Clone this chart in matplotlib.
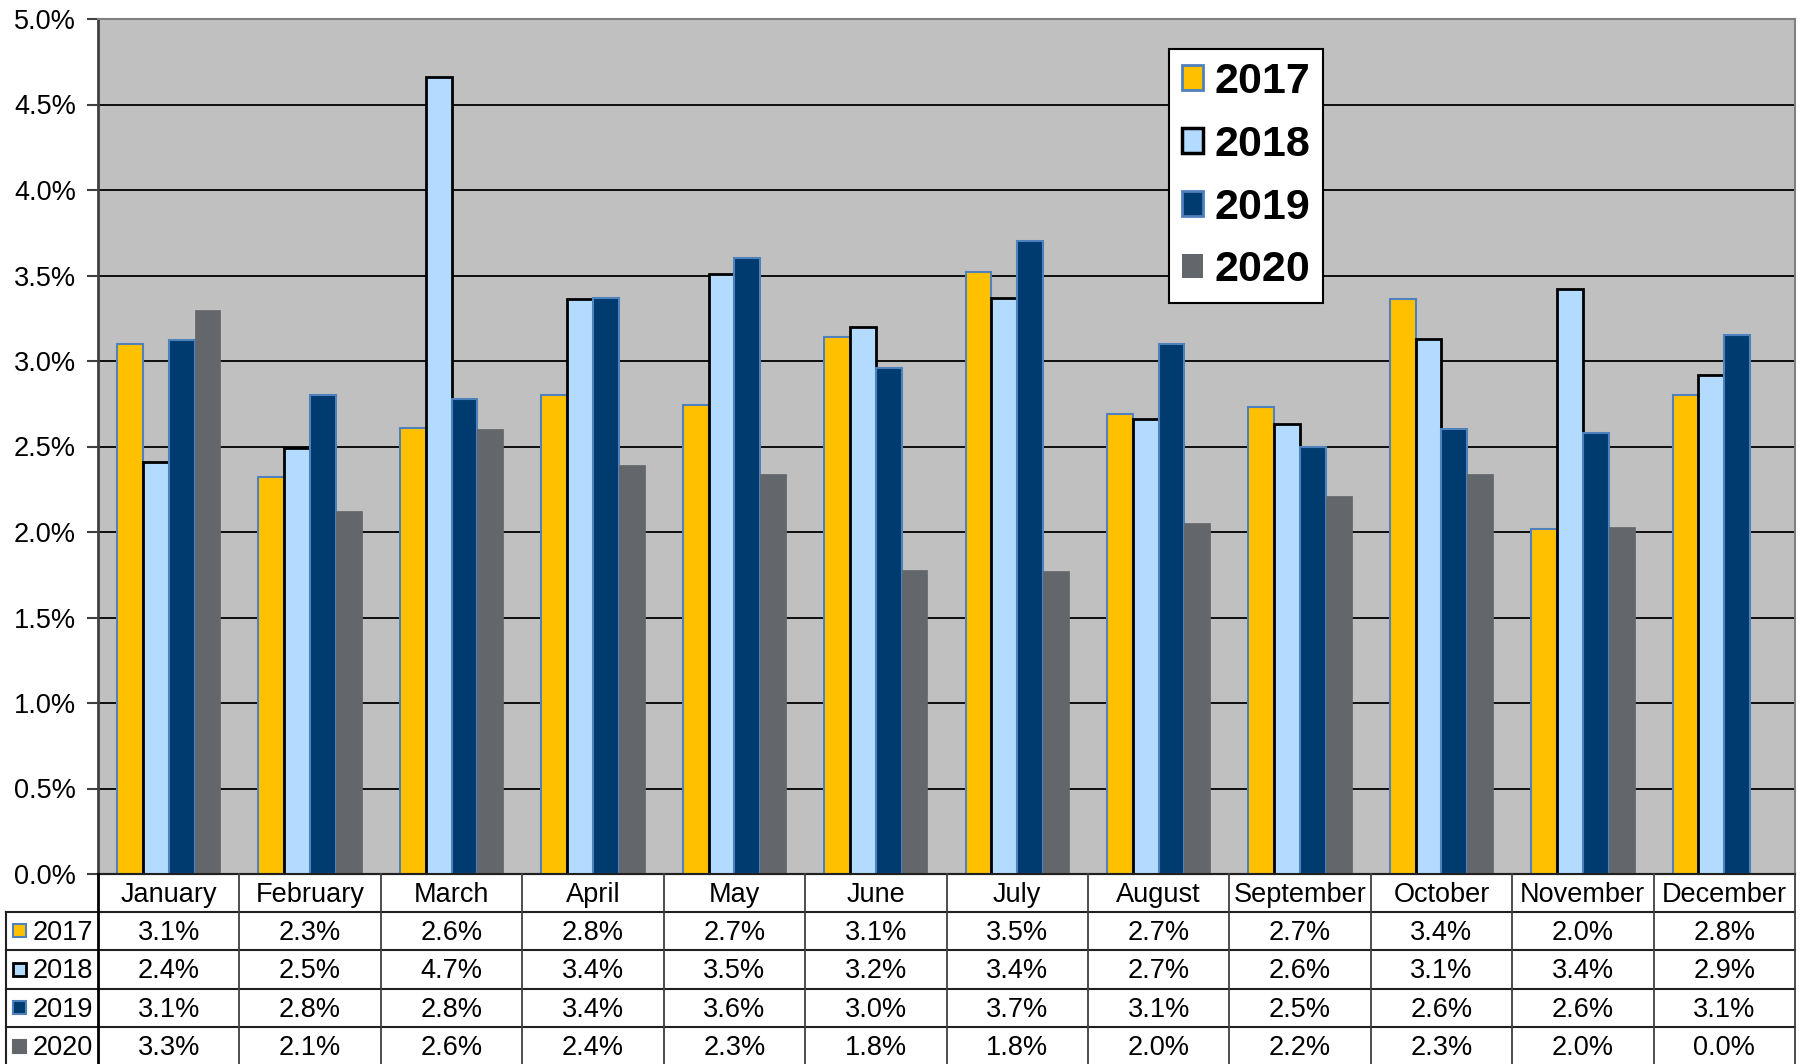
import matplotlib
matplotlib.use("Agg")
import matplotlib.pyplot as plt
from matplotlib.patches import Rectangle, Patch

plt.rcParams['font.family'] = ['Liberation Sans', 'DejaVu Sans']

months = ["January", "February", "March", "April", "May", "June", "July",
          "August", "September", "October", "November", "December"]
years = ["2017", "2018", "2019", "2020"]
v2017 = [3.10, 2.32, 2.61, 2.80, 2.74, 3.14, 3.52, 2.69, 2.73, 3.36, 2.02, 2.80]
v2018 = [2.41, 2.49, 4.66, 3.36, 3.51, 3.20, 3.37, 2.66, 2.63, 3.13, 3.42, 2.92]
v2019 = [3.12, 2.80, 2.78, 3.37, 3.60, 2.96, 3.70, 3.10, 2.50, 2.60, 2.58, 3.15]
v2020 = [3.30, 2.12, 2.60, 2.39, 2.34, 1.78, 1.77, 2.05, 2.21, 2.34, 2.03, 0.00]
yticks = [0.0, 0.5, 1.0, 1.5, 2.0, 2.5, 3.0, 3.5, 4.0, 4.5, 5.0]

series = [v2017, v2018, v2019, v2020]
faces = ["#FFC000", "#B3DBFF", "#003B70", "#63666A"]
edges = ["#4F81BD", "#000000", "#4F81BD", "#63666A"]
ewidths = [1.5, 2.0, 1.5, 0.5]

W, H = 1802, 1064
fig = plt.figure(figsize=(W / 100, H / 100), dpi=100)
FS = 19.5

# main plot area
pl, pr, pt, pb = 98, 1795, 19, 874
ax = fig.add_axes([pl / W, 1 - pb / H, (pr - pl) / W, (pb - pt) / H])
ax.set_facecolor("#C0C0C0")
ax.set_xlim(-0.5, 11.5)
ax.set_ylim(0, 5)
ax.set_yticks(yticks)
ax.set_yticklabels([f"{t:.1f}%" for t in yticks], fontsize=FS)
ax.tick_params(axis='y', length=8, width=1.5, color="#404040", pad=8)
ax.set_xticks([])
for y in yticks[1:-1]:
    ax.axhline(y, color="#000000", lw=1.3, zorder=1)
ax.spines['left'].set_color("#404040")
ax.spines['left'].set_linewidth(2)
for s in ['top', 'right']:
    ax.spines[s].set_color("#808080")
    ax.spines[s].set_linewidth(1.5)
ax.spines['bottom'].set_color("#404040")
ax.spines['bottom'].set_linewidth(1.5)

bw = 0.1826
x = list(range(len(months)))
handles = []
for k, vals in enumerate(series):
    xs = [i + (k - 1.5) * bw for i in x]
    ax.bar(xs, vals, width=bw, color=faces[k], edgecolor=edges[k],
           linewidth=ewidths[k], zorder=3)
    handles.append(Patch(facecolor=faces[k], edgecolor=edges[k],
                         linewidth=ewidths[k] + 0.5 if k < 3 else 0,
                         label=years[k]))

leg = fig.legend(handles=handles, loc='upper left',
                 bbox_to_anchor=(1169 / W, 1 - 49 / H),
                 bbox_transform=fig.transFigure, borderaxespad=0,
                 prop={'size': 31, 'weight': 'bold'},
                 handlelength=0.5, handleheight=0.5, handletextpad=0.25,
                 labelspacing=0.53, borderpad=0.3, fancybox=False,
                 framealpha=1, edgecolor="#000000")
leg.get_frame().set_linewidth(1.5)

# data table
tl, tt, tbot = 6, 874, 1066
slot = (pr - pl) / 12.0
tax = fig.add_axes([tl / W, 1 - tbot / H, (pr - tl) / W, (tbot - tt) / H])
xl = -0.5 - (pl - tl) / slot
tax.set_xlim(xl, 11.5)
tax.set_ylim(tbot - tt, 0)
tax.axis('off')
bounds = [0, 37.5, 76, 114.5, 153, 191.5]
lc = "#202020"
tax.plot([-0.5, 11.5], [0, 0], color=lc, lw=1.5, clip_on=False)
for b in bounds[1:]:
    tax.plot([xl, 11.5], [b, b], color=lc, lw=1.5, clip_on=False)
for j in range(13):
    xx = -0.5 + j
    tax.plot([xx, xx], [0, 192], color=("#000000" if j == 0 else "#404040"),
             lw=(2 if j == 0 else 1.3), clip_on=False)
tax.plot([xl, xl], [bounds[1], 192], color=lc, lw=1.5, clip_on=False)

for i, m in enumerate(months):
    tax.text(i, bounds[0] + 21, m, ha='center', va='center', fontsize=FS)
for k, vals in enumerate(series):
    yc = (bounds[k + 1] + bounds[k + 2]) / 2
    for i, v in enumerate(vals):
        tax.text(i, yc + 2, f"{v:.1f}%", ha='center', va='center', fontsize=FS)
    sx = xl + 7 / slot
    sw = 13 / slot
    tax.add_patch(Rectangle((sx, yc - 6.5), sw, 13, facecolor=faces[k],
                            edgecolor=(edges[k] if k < 3 else faces[k]),
                            linewidth=(1.5 if k != 1 else 2.0), clip_on=False))
    tax.text(xl + 27 / slot, yc + 2, years[k], ha='left', va='center', fontsize=FS)

fig.savefig("out.png", dpi=100)
